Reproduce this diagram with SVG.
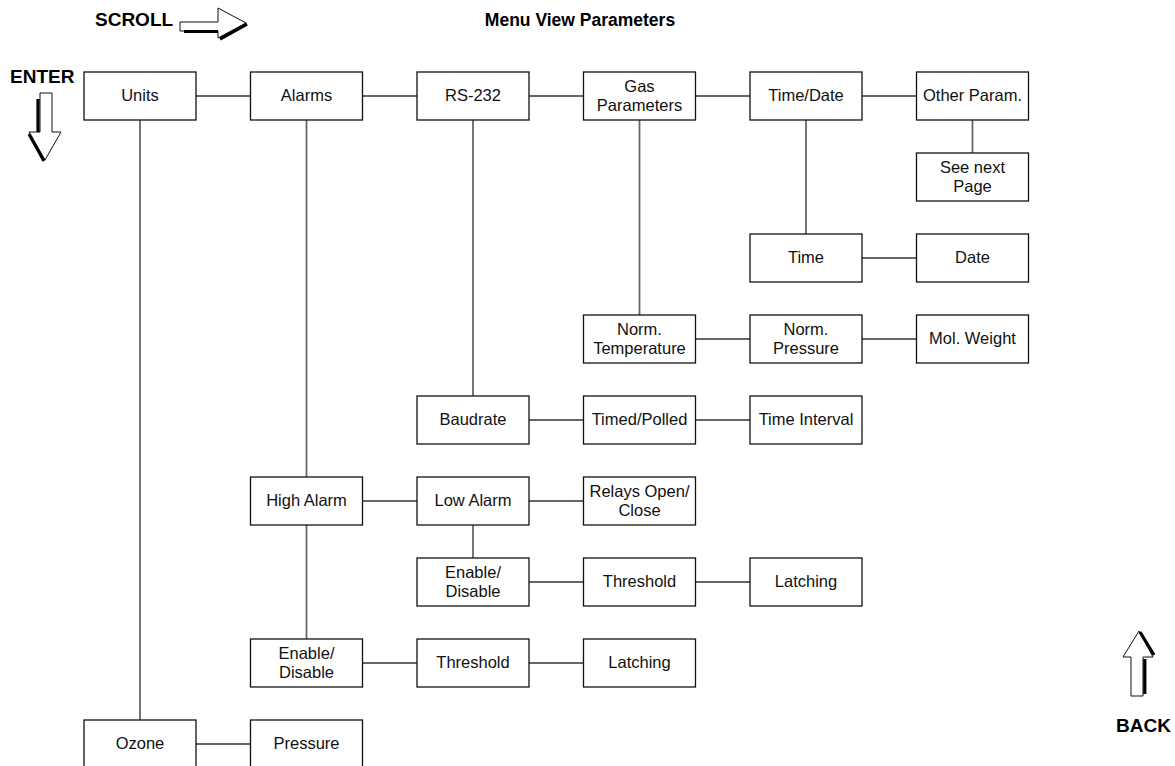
<svg xmlns="http://www.w3.org/2000/svg" width="1175" height="766" viewBox="0 0 1175 766">
<style>
.box rect{fill:#fff;stroke:#111;stroke-width:1.3}
.box text{font-family:"Liberation Sans",Arial,sans-serif;font-size:16.5px;fill:#111;text-anchor:middle}
.conn line{stroke:#666;stroke-width:1.8}
.lbl{font-family:"Liberation Sans",Arial,sans-serif;font-weight:bold;font-size:19px;fill:#000}
.arrow polygon{fill:#fff;stroke:#111;stroke-width:1}
.arrow line{stroke:#000;stroke-width:3.2;stroke-linecap:butt}
</style>
<rect x="0" y="0" width="1175" height="766" fill="#fff"/>
<text class="lbl" x="580" y="26" text-anchor="middle" style="font-size:17.5px">Menu View Parameters</text>
<text class="lbl" x="95" y="26">SCROLL</text>
<text class="lbl" x="10" y="83">ENTER</text>
<text class="lbl" x="1116" y="732">BACK</text>
<g id="arrow-scroll" class="arrow">
<polygon points="180,22 218,22 218,8 246,23 218,38 218,31 180,31"/>
<line x1="184" y1="31.5" x2="218" y2="31.5"/>
<line x1="220" y1="39" x2="247" y2="24"/>
</g>
<g id="arrow-enter" class="arrow">
<polygon points="40,93 52,93 52,132 61,132 45,160 29,132 40,132"/>
<line x1="38" y1="99" x2="38" y2="132"/>
<line x1="29" y1="134" x2="44" y2="161"/>
</g>
<g id="arrow-back" class="arrow">
<polygon points="1131,696 1131,657 1123,657 1139,631 1153,657 1143,657 1143,696"/>
<line x1="1144.8" y1="659" x2="1144.8" y2="694"/>
<line x1="1140" y1="632" x2="1154" y2="655"/>
</g>
<g id="connectors" class="conn">
<line x1="196" y1="96" x2="250.5" y2="96"/>
<line x1="362.5" y1="96" x2="417" y2="96"/>
<line x1="529" y1="96" x2="583.5" y2="96"/>
<line x1="695.5" y1="96" x2="750" y2="96"/>
<line x1="862" y1="96" x2="916.5" y2="96"/>
<line x1="862" y1="258" x2="916.5" y2="258"/>
<line x1="695.5" y1="339" x2="750" y2="339"/>
<line x1="862" y1="339" x2="916.5" y2="339"/>
<line x1="529" y1="420" x2="583.5" y2="420"/>
<line x1="695.5" y1="420" x2="750" y2="420"/>
<line x1="362.5" y1="501" x2="417" y2="501"/>
<line x1="529" y1="501" x2="583.5" y2="501"/>
<line x1="529" y1="582" x2="583.5" y2="582"/>
<line x1="695.5" y1="582" x2="750" y2="582"/>
<line x1="362.5" y1="663" x2="417" y2="663"/>
<line x1="529" y1="663" x2="583.5" y2="663"/>
<line x1="196" y1="744" x2="250.5" y2="744"/>
<line x1="140" y1="120" x2="140" y2="720"/>
<line x1="306.5" y1="120" x2="306.5" y2="477"/>
<line x1="306.5" y1="525" x2="306.5" y2="639"/>
<line x1="473" y1="120" x2="473" y2="396"/>
<line x1="473" y1="525" x2="473" y2="558"/>
<line x1="639.5" y1="120" x2="639.5" y2="315"/>
<line x1="806" y1="120" x2="806" y2="234"/>
<line x1="972.5" y1="120" x2="972.5" y2="153"/>
</g>
<g id="units" class="box"><rect x="84" y="72" width="112" height="48"/><text x="140" y="101">Units</text></g>
<g id="alarms" class="box"><rect x="250.5" y="72" width="112" height="48"/><text x="306.5" y="101">Alarms</text></g>
<g id="rs232" class="box"><rect x="417" y="72" width="112" height="48"/><text x="473" y="101">RS-232</text></g>
<g id="gas-parameters" class="box"><rect x="583.5" y="72" width="112" height="48"/><text x="639.5" y="91.5">Gas</text><text x="639.5" y="110.5">Parameters</text></g>
<g id="time-date" class="box"><rect x="750" y="72" width="112" height="48"/><text x="806" y="101">Time/Date</text></g>
<g id="other-param" class="box"><rect x="916.5" y="72" width="112" height="48"/><text x="972.5" y="101">Other Param.</text></g>
<g id="see-next-page" class="box"><rect x="916.5" y="153" width="112" height="48"/><text x="972.5" y="172.5">See next</text><text x="972.5" y="191.5">Page</text></g>
<g id="time" class="box"><rect x="750" y="234" width="112" height="48"/><text x="806" y="263">Time</text></g>
<g id="date" class="box"><rect x="916.5" y="234" width="112" height="48"/><text x="972.5" y="263">Date</text></g>
<g id="norm-temperature" class="box"><rect x="583.5" y="315" width="112" height="48"/><text x="639.5" y="334.5">Norm.</text><text x="639.5" y="353.5">Temperature</text></g>
<g id="norm-pressure" class="box"><rect x="750" y="315" width="112" height="48"/><text x="806" y="334.5">Norm.</text><text x="806" y="353.5">Pressure</text></g>
<g id="mol-weight" class="box"><rect x="916.5" y="315" width="112" height="48"/><text x="972.5" y="344">Mol. Weight</text></g>
<g id="baudrate" class="box"><rect x="417" y="396" width="112" height="48"/><text x="473" y="425">Baudrate</text></g>
<g id="timed-polled" class="box"><rect x="583.5" y="396" width="112" height="48"/><text x="639.5" y="425">Timed/Polled</text></g>
<g id="time-interval" class="box"><rect x="750" y="396" width="112" height="48"/><text x="806" y="425">Time Interval</text></g>
<g id="high-alarm" class="box"><rect x="250.5" y="477" width="112" height="48"/><text x="306.5" y="506">High Alarm</text></g>
<g id="low-alarm" class="box"><rect x="417" y="477" width="112" height="48"/><text x="473" y="506">Low Alarm</text></g>
<g id="relays" class="box"><rect x="583.5" y="477" width="112" height="48"/><text x="639.5" y="496.5">Relays Open/</text><text x="639.5" y="515.5">Close</text></g>
<g id="low-enable" class="box"><rect x="417" y="558" width="112" height="48"/><text x="473" y="577.5">Enable/</text><text x="473" y="596.5">Disable</text></g>
<g id="low-threshold" class="box"><rect x="583.5" y="558" width="112" height="48"/><text x="639.5" y="587">Threshold</text></g>
<g id="low-latching" class="box"><rect x="750" y="558" width="112" height="48"/><text x="806" y="587">Latching</text></g>
<g id="high-enable" class="box"><rect x="250.5" y="639" width="112" height="48"/><text x="306.5" y="658.5">Enable/</text><text x="306.5" y="677.5">Disable</text></g>
<g id="high-threshold" class="box"><rect x="417" y="639" width="112" height="48"/><text x="473" y="668">Threshold</text></g>
<g id="high-latching" class="box"><rect x="583.5" y="639" width="112" height="48"/><text x="639.5" y="668">Latching</text></g>
<g id="ozone" class="box"><rect x="84" y="720" width="112" height="48"/><text x="140" y="749">Ozone</text></g>
<g id="pressure" class="box"><rect x="250.5" y="720" width="112" height="48"/><text x="306.5" y="749">Pressure</text></g>
</svg>
